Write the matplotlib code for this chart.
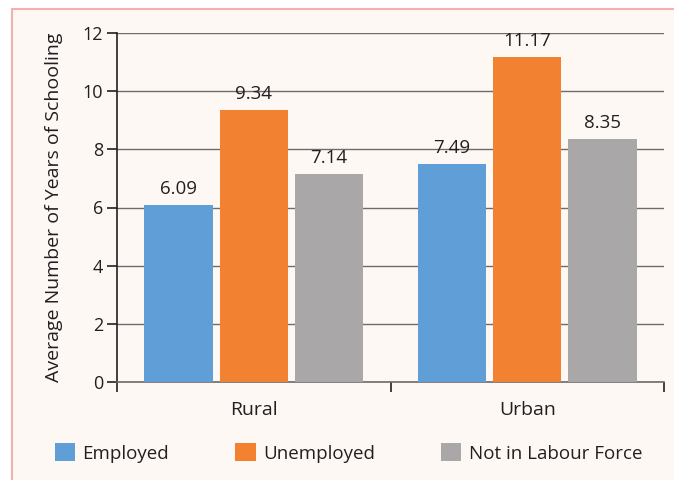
import matplotlib
matplotlib.use("Agg")
import matplotlib.pyplot as plt
from matplotlib.patches import Rectangle, Patch
import numpy as np

categories = ["Rural", "Urban"]
series_names = ["Employed", "Unemployed", "Not in Labour Force"]
employed = [6.09, 7.49]
unemployed = [9.34, 11.17]
not_in_lf = [7.14, 8.35]
colors = ["#5F9ED6", "#F38132", "#A9A7A8"]
yticks = [0, 2, 4, 6, 8, 10, 12]

plt.rcParams['font.family'] = ['Open Sans', 'DejaVu Sans']

fig = plt.figure(figsize=(6.74, 4.8), dpi=100)
fig.patch.set_facecolor("white")
bg = "#FEF8F5"
fig.patches.append(Rectangle((12/674, -0.05), 1.1, 1 - 9/480 + 0.05,
                             transform=fig.transFigure, facecolor=bg,
                             edgecolor="#F4B0AA", linewidth=1.5, zorder=-10))

ax = fig.add_axes([117/674, 1 - 382/480, (664 - 117)/674, (382 - 33)/480])
ax.set_facecolor("none")

x = np.arange(len(categories))
w = 0.25
off = 0.275
for i, (vals, c) in enumerate(zip([employed, unemployed, not_in_lf], colors)):
    xs = x + (i - 1) * off
    ax.bar(xs, vals, width=w, color=c, zorder=3)
    for xi, v in zip(xs, vals):
        ax.text(xi, v + 0.25, f"{v:.2f}", ha="center", va="bottom",
                fontsize=13.5, color="#231F20")

ax.set_xlim(-0.5, 1.5)
ax.set_ylim(0, 12)
ax.set_yticks(yticks)
ax.set_yticklabels([str(t) for t in yticks], fontsize=13, color="#231F20")
ax.yaxis.grid(True, color="#6D6B6B", linewidth=1.0, zorder=0)
ax.set_axisbelow(True)

ax.set_xticks([-0.5, 0.5, 1.5])
ax.set_xticklabels([])
ax.set_xticks(x, minor=True)
ax.set_xticklabels(categories, minor=True, fontsize=14, color="#231F20")
ax.tick_params(axis="x", which="minor", length=0, pad=14)
ax.tick_params(axis="x", which="major", length=7, direction="out", width=1.2, color="#231F20")
ax.tick_params(axis="y", length=7, direction="out", width=1.2, color="#231F20", pad=3)

for s in ["top", "right"]:
    ax.spines[s].set_visible(False)
ax.spines["left"].set_color("#231F20")
ax.spines["bottom"].set_color("#6D6B6B")
ax.spines["left"].set_linewidth(1.2)
ax.spines["bottom"].set_linewidth(1.2)

ax.set_ylabel("Average Number of Years of Schooling", fontsize=14,
              color="#231F20", labelpad=14)

handles = [Patch(facecolor=c, edgecolor="none") for c in colors]
fig.legend(handles, series_names, loc="center left",
           bbox_to_anchor=(47/674, 1 - 453/480), ncol=3, frameon=False,
           fontsize=13.5, handlelength=1.1, handleheight=1.1,
           handletextpad=0.4, columnspacing=3.5, borderaxespad=0,
           labelcolor="#231F20")

fig.savefig("out.png", dpi=100, facecolor=fig.get_facecolor())
